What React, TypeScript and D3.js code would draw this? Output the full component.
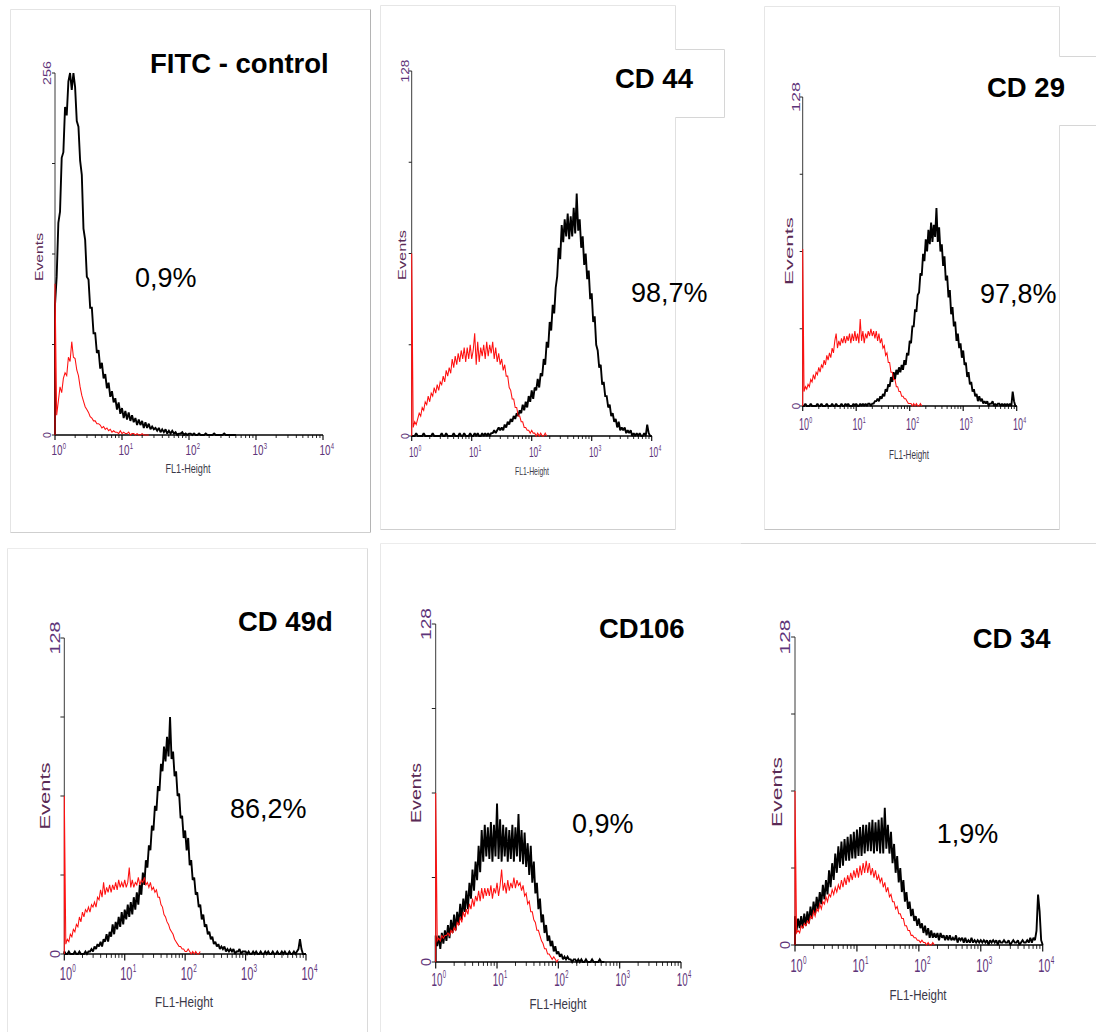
import React from "react";
import * as d3 from "d3";

// ---------------- DATA ----------------
const panelTitles = ["FITC - control", "CD 44", "CD 29", "CD 49d", "CD106", "CD 34"];
const positivePct = ["0,9%", "98,7%", "97,8%", "86,2%", "0,9%", "1,9%"];
const yMaxima = [256, 128, 128, 128, 128, 128];
const yTicks256 = [0, 64, 128, 192, 256];
const yTicks128 = [0, 32, 64, 96, 128];
const decadeExponents = ["0", "1", "2", "3", "4"];
const decadeValues = [1, 10, 100, 1000, 10000];
const STEPS_PER_DECADE = 40; // histogram channels per decade (FL1 log scale)

const fitcBlack = [
  92, 112, 150, 158, 196, 200, 232, 226, 250, 256, 244, 256,
  246, 222, 218, 194, 184, 146, 138, 112, 110, 90, 90, 72,
  72, 58, 60, 47, 51, 40, 43, 33, 37, 27, 31, 23,
  26, 18, 23, 15, 19, 12, 17, 11, 16, 10, 14, 9,
  12, 7, 11, 7, 10, 5, 9, 5, 8, 4, 6, 4,
  5, 3, 5, 2, 4, 2, 4, 1, 3, 1, 3, 1,
  2, 0, 1, 1, 2, 0, 1, 0, 1, 1, 0, 1,
  0, 0, 1, 0, 0, 0, 1, 0, 0, 0, 0, 1, 0, 0, 0, 0, 0, 1, 0, 0, 0, 0, 0, 0, 0,
];
const fitcRed = [
  107, 14, 24, 34, 30, 40, 44, 42, 55, 52, 66, 55, 54, 46, 42, 34, 28, 24, 20, 18,
  16, 13, 12, 10, 10, 8, 8, 7, 5, 6, 4, 5, 3, 4, 2, 3, 2, 2, 1, 3,
  1, 2, 1, 1, 2, 0, 1, 1, 0, 1, 0, 0, 1, 0, 0, 0, 0,
];

const cd44Black = [
  0, 0, 0, 1, 0, 0, 0, 0, 1, 0,
  0, 0, 0, 0, 1, 0, 0, 0, 0, 0,
  1, 0, 0, 1, 0, 0, 0, 0, 1, 0,
  0, 0, 1, 0, 0, 1, 0, 0, 0, 1,
  0, 0, 1, 0, 1, 0, 0, 1, 0, 1,
  0, 1, 0, 1, 1, 2, 1, 2, 3, 2,
  3, 2, 4, 3, 5, 4, 6, 5, 7, 6,
  8, 7, 9, 8, 11, 9, 12, 10, 14, 12,
  16, 13, 17, 16, 20, 17, 22, 21, 27, 25,
  33, 31, 40, 37, 46, 43, 52, 56, 66, 62,
  74, 68, 76, 70, 78, 69, 77, 70, 80, 71,
  85, 72, 76, 66, 70, 60, 64, 55, 58, 48,
  50, 40, 42, 32, 30, 24, 25, 18, 19, 14,
  14, 10, 11, 7, 8, 5, 6, 3, 5, 2,
  3, 2, 3, 1, 2, 1, 2, 0, 1, 0,
  1, 0, 1, 0, 0, 1, 0, 4, 1, 0, 0,
];
const cd44Red = [
  64, 3, 5, 4, 6, 8, 7, 10, 9, 12,
  11, 14, 12, 15, 14, 17, 15, 18, 16, 19,
  18, 21, 19, 23, 21, 24, 22, 27, 24, 28,
  25, 29, 26, 30, 27, 31, 26, 31, 27, 32,
  27, 30, 36, 25, 33, 26, 31, 28, 32, 27,
  33, 28, 32, 29, 33, 27, 31, 26, 29, 25,
  27, 23, 25, 21, 21, 17, 16, 13, 13, 10,
  10, 7, 7, 5, 5, 3, 3, 2, 2, 1,
  2, 1, 1, 0, 1, 0, 1, 0, 0, 1, 0,
];

const cd29Black = [
  0, 0, 1, 0, 0, 0, 1, 0, 0, 0,
  0, 1, 0, 0, 1, 0, 0, 0, 1, 0,
  0, 0, 1, 0, 0, 1, 0, 0, 0, 1,
  0, 0, 1, 0, 1, 0, 0, 0, 1, 0,
  1, 0, 0, 1, 0, 1, 0, 1, 0, 1,
  1, 0, 1, 1, 2, 2, 3, 2, 4, 3,
  5, 4, 7, 6, 9, 8, 12, 10, 14, 11,
  15, 13, 16, 14, 17, 15, 19, 17, 22, 21,
  27, 26, 33, 33, 40, 39, 46, 47, 55, 54,
  63, 60, 69, 64, 73, 67, 76, 68, 75, 70,
  82, 68, 74, 64, 67, 58, 62, 52, 54, 45,
  48, 38, 41, 33, 35, 27, 30, 24, 26, 20,
  23, 17, 18, 12, 14, 9, 10, 6, 7, 4,
  5, 2, 4, 2, 3, 1, 2, 1, 2, 0,
  1, 1, 2, 0, 1, 0, 1, 1, 0, 1,
  0, 1, 0, 1, 0, 1, 0, 6, 2, 0, 0,
];
const cd29Red = [
  65, 6, 8, 7, 9, 8, 11, 10, 13, 11,
  14, 13, 16, 14, 17, 16, 19, 17, 21, 19,
  22, 20, 24, 22, 27, 30, 24, 27, 25, 28,
  26, 29, 26, 29, 27, 30, 26, 30, 27, 31,
  27, 30, 26, 36, 27, 31, 26, 30, 28, 31,
  29, 32, 29, 31, 28, 31, 27, 30, 26, 28,
  24, 25, 21, 22, 18, 18, 14, 14, 11, 11,
  8, 8, 6, 6, 4, 4, 3, 3, 2, 1,
  1, 1, 0, 1, 0, 1, 0, 0, 1, 0,
];

const cd49dBlack = [
  1, 0, 0, 1, 0, 0, 0, 1, 0, 0,
  1, 0, 0, 0, 1, 0, 1, 1, 2, 1,
  3, 2, 4, 3, 5, 3, 6, 5, 8, 5,
  9, 7, 12, 8, 13, 10, 15, 11, 17, 12,
  18, 14, 20, 15, 21, 16, 23, 18, 25, 20,
  28, 24, 33, 28, 38, 35, 44, 42, 52, 50,
  60, 58, 68, 66, 77, 74, 84, 78, 88, 80,
  96, 79, 82, 72, 74, 64, 65, 55, 56, 47,
  50, 42, 47, 36, 38, 30, 31, 24, 25, 19,
  20, 14, 16, 11, 12, 8, 9, 6, 7, 4,
  5, 3, 4, 2, 3, 2, 3, 1, 2, 1,
  2, 1, 2, 0, 1, 1, 2, 0, 1, 1,
  1, 0, 1, 0, 0, 1, 0, 1, 0, 0,
  1, 0, 0, 1, 0, 1, 0, 0, 1, 0,
  0, 1, 0, 0, 1, 0, 1, 0, 0, 1,
  0, 0, 1, 0, 1, 2, 6, 2, 0, 0, 0,
];
const cd49dRed = [
  64, 4, 6, 5, 8, 7, 10, 9, 12, 11,
  15, 13, 17, 15, 18, 17, 19, 17, 20, 19,
  21, 19, 23, 22, 26, 23, 29, 24, 27, 25,
  28, 25, 28, 26, 29, 26, 30, 27, 29, 27,
  30, 27, 29, 35, 27, 30, 27, 29, 28, 31,
  28, 30, 29, 31, 28, 29, 27, 29, 26, 27,
  25, 26, 23, 23, 20, 19, 16, 15, 13, 12,
  10, 9, 8, 6, 5, 4, 3, 3, 2, 2,
  1, 1, 2, 1, 0, 1, 0, 1, 0, 0, 1,
];

const cd106Black = [
  10, 6, 10, 5, 11, 7, 12, 8, 14, 9,
  16, 11, 18, 12, 19, 14, 22, 16, 24, 19,
  27, 20, 30, 24, 35, 27, 38, 31, 44, 34,
  50, 38, 52, 40, 51, 39, 53, 38, 52, 40,
  60, 39, 54, 38, 52, 40, 51, 38, 50, 39,
  52, 38, 51, 40, 56, 38, 50, 37, 49, 36,
  45, 33, 44, 30, 38, 26, 30, 20, 24, 15,
  18, 11, 14, 8, 10, 6, 8, 4, 6, 3,
  4, 2, 3, 1, 2, 1, 2, 1, 1, 0,
  1, 1, 0, 1, 0, 1, 0, 0, 1, 0,
  0, 0, 1, 0, 0, 0, 0, 1, 0, 0, 0,
];
const cd106Red = [
  64, 8, 9, 8, 10, 9, 10, 10, 11, 10,
  12, 11, 13, 12, 15, 14, 17, 15, 19, 17,
  20, 18, 22, 20, 24, 21, 25, 23, 27, 23,
  28, 24, 28, 25, 28, 25, 29, 24, 28, 26,
  30, 25, 29, 35, 27, 30, 26, 31, 27, 30,
  28, 32, 28, 31, 29, 30, 27, 29, 25, 26,
  22, 23, 19, 19, 16, 15, 12, 12, 10, 8,
  7, 5, 5, 3, 3, 2, 1, 2, 1, 0, 1,
];

const cd34Black = [
  12, 6, 11, 7, 12, 7, 13, 8, 14, 9,
  16, 11, 18, 13, 20, 15, 22, 17, 25, 19,
  27, 21, 31, 24, 34, 27, 38, 30, 41, 32,
  43, 33, 44, 35, 45, 35, 46, 36, 47, 36,
  48, 37, 49, 37, 50, 38, 50, 39, 51, 39,
  52, 38, 51, 39, 52, 38, 53, 38, 57, 40,
  50, 38, 47, 34, 42, 30, 37, 26, 32, 22,
  27, 18, 22, 15, 18, 12, 15, 10, 12, 8,
  11, 7, 9, 5, 8, 4, 7, 3, 6, 3,
  5, 3, 5, 2, 5, 3, 4, 2, 4, 2,
  4, 2, 3, 2, 4, 1, 3, 2, 3, 1,
  3, 1, 2, 1, 3, 1, 2, 1, 2, 1,
  2, 1, 2, 1, 2, 0, 2, 1, 2, 1,
  2, 0, 2, 1, 1, 2, 1, 1, 2, 0,
  1, 2, 1, 1, 2, 0, 1, 2, 1, 1,
  2, 1, 3, 1, 3, 2, 6, 21, 14, 2, 0,
];
const cd34Red = [
  64, 5, 6, 5, 8, 7, 9, 8, 10, 9,
  12, 11, 14, 12, 15, 14, 17, 15, 18, 17,
  20, 18, 21, 20, 23, 21, 24, 22, 25, 23,
  27, 24, 28, 25, 29, 26, 30, 27, 31, 28,
  32, 28, 33, 29, 34, 30, 35, 30, 34, 29,
  32, 28, 31, 27, 29, 26, 28, 24, 26, 22,
  24, 20, 21, 18, 18, 15, 16, 13, 13, 11,
  11, 8, 8, 6, 6, 4, 4, 3, 3, 2,
  2, 1, 2, 1, 1, 0, 1, 0, 0, 1, 0,
];

const blackSeries = [fitcBlack, cd44Black, cd29Black, cd49dBlack, cd106Black, cd34Black];
const redSeries = [fitcRed, cd44Red, cd29Red, cd49dRed, cd106Red, cd34Red];

// ---------------- LAYOUT ----------------
type Layout = {
  ax0: number; ax1: number; ay0: number; ay1: number;
  titleX: number; titleY: number; pctX: number; pctY: number;
  evX: number; evY: number; evLen: number; evFs: number;
  flX: number; flY: number; flLen: number; flFs: number;
  tkDy: number; tkOff: number; tkSx: number; tkFs: number; supFs: number;
  ylX: number; ylLen: number; ylFs: number; tickScale: number;
};

const layouts: Layout[] = [
  { ax0: 55, ax1: 323, ay0: 435, ay1: 73, titleX: 150, titleY: 73, pctX: 135, pctY: 287,
    evX: 39, evY: 257, evLen: 48, evFs: 11, flX: 188, flY: 473, flLen: 45, flFs: 12,
    tkDy: 20, tkOff: 3.5, tkSx: 0.66, tkFs: 15, supFs: 9, ylX: 46.5, ylLen: 24, ylFs: 10.5, tickScale: 1 },
  { ax0: 411.7, ax1: 651.7, ay0: 436, ay1: 71, titleX: 615, titleY: 88, pctX: 631, pctY: 302,
    evX: 401.7, evY: 255, evLen: 50, evFs: 11, flX: 532, flY: 475, flLen: 34, flFs: 10.5,
    tkDy: 20.5, tkOff: 2.8, tkSx: 0.6, tkFs: 14, supFs: 8.5, ylX: 405, ylLen: 23, ylFs: 10.5, tickScale: 1 },
  { ax0: 802.7, ax1: 1016.7, ay0: 406, ay1: 97, titleX: 987, titleY: 97, pctX: 980, pctY: 303,
    evX: 789, evY: 251, evLen: 68, evFs: 11.5, flX: 909, flY: 459, flLen: 40, flFs: 12.5,
    tkDy: 24, tkOff: 3.8, tkSx: 0.56, tkFs: 16, supFs: 9.5, ylX: 796, ylLen: 30, ylFs: 11.5, tickScale: 1 },
  { ax0: 64.3, ax1: 306, ay0: 954, ay1: 638, titleX: 238, titleY: 631, pctX: 230, pctY: 818,
    evX: 44.7, evY: 796, evLen: 67, evFs: 14.5, flX: 184, flY: 1007, flLen: 58, flFs: 15.5,
    tkDy: 26, tkOff: 4.5, tkSx: 0.58, tkFs: 19, supFs: 11, ylX: 55, ylLen: 33, ylFs: 14.5, tickScale: 1.3 },
  { ax0: 435.7, ax1: 681, ay0: 962, ay1: 624, titleX: 599, titleY: 638, pctX: 572, pctY: 833,
    evX: 416.3, evY: 793, evLen: 60, evFs: 14.5, flX: 558, flY: 1009, flLen: 57, flFs: 15.5,
    tkDy: 23.5, tkOff: 4.2, tkSx: 0.56, tkFs: 17.5, supFs: 10.5, ylX: 426, ylLen: 32, ylFs: 14.5, tickScale: 1.3 },
  { ax0: 795, ax1: 1042.7, ay0: 945, ay1: 637, titleX: 972.7, titleY: 648, pctX: 936.7, pctY: 843,
    evX: 776.7, evY: 792, evLen: 70, evFs: 14.5, flX: 918, flY: 1000, flLen: 57, flFs: 15.5,
    tkDy: 26.7, tkOff: 4.5, tkSx: 0.58, tkFs: 19, supFs: 11, ylX: 785, ylLen: 35, ylFs: 14.5, tickScale: 1.3 },
];

const FONT = "'Liberation Sans', Arial, Helvetica, sans-serif";
const PURPLE = "#5e3479";
const EVENTS_COLOR = "#5a2a55";
const LABEL_GRAY = "#3a3848";
const BORDER = "#d6d6d6";
const BORDER_DARK = "#b4b4b4";

function Histogram({ idx }: { idx: number }) {
  const L = layouts[idx];
  const ymax = yMaxima[idx];
  const yTicks = ymax === 256 ? yTicks256 : yTicks128;
  const x = d3.scaleLog().domain([decadeValues[0], decadeValues[4]]).range([L.ax0, L.ax1]);
  const y = d3.scaleLinear().domain([0, ymax]).range([L.ay0, L.ay1]).clamp(true);

  const toPoints = (vals: number[]): [number, number][] => [
    [decadeValues[0], 0],
    ...vals.map((v, i) => [Math.pow(10, i / STEPS_PER_DECADE), v] as [number, number]),
  ];
  const line = d3
    .line<[number, number]>()
    .x((d) => x(d[0]))
    .y((d) => y(d[1]));

  const xTicks = x.ticks();
  const s = L.tickScale;

  return (
    <g>
      {/* axes */}
      <line x1={L.ax0} x2={L.ax0} y1={L.ay1} y2={L.ay0} stroke="#3a3a3a" strokeWidth={1} />
      {yTicks.map((t) => (
        <line key={"yt" + t} x1={L.ax0 - 3 * s} x2={L.ax0} y1={y(t)} y2={y(t)} stroke="#222" strokeWidth={1} />
      ))}
      {xTicks.map((t, i) => {
        const major = Math.abs(Math.log10(t) - Math.round(Math.log10(t))) < 1e-9;
        return (
          <line key={"xt" + i} x1={x(t)} x2={x(t)} y1={L.ay0} y2={L.ay0 + (major ? 5 : 3) * s}
            stroke="#111" strokeWidth={major ? 1.2 : 0.9} />
        );
      })}
      <line x1={L.ax0} x2={L.ax1} y1={L.ay0} y2={L.ay0} stroke="#000" strokeWidth={1.4} />

      {/* histograms */}
      <path d={line(toPoints(blackSeries[idx])) || ""} fill="none" stroke="#000" strokeWidth={1.9}
        strokeLinejoin="miter" strokeMiterlimit={2} />
      <path d={line(toPoints(redSeries[idx])) || ""} fill="none" stroke="#ff1010" strokeWidth={1.05} />

      {/* x tick labels: 10 with superscript exponent */}
      {decadeValues.map((v, i) => (
        <text key={"xl" + i}
          transform={`translate(${x(v) - L.tkOff},${L.ay0 + L.tkDy}) scale(${L.tkSx},1)`}
          fill={PURPLE} fontFamily={FONT} fontSize={L.tkFs}>
          10
          <tspan dx={0.5} dy={-L.tkFs * 0.42} fontSize={L.supFs}>{decadeExponents[i]}</tspan>
        </text>
      ))}

      {/* y tick labels */}
      <text transform={`translate(${L.ylX},${L.ay0}) rotate(-90)`} textAnchor="middle" dominantBaseline="central"
        fontFamily={FONT} fontSize={L.ylFs} fill={PURPLE}>0</text>
      <text transform={`translate(${L.ylX},${L.ay1}) rotate(-90)`} textAnchor="middle" dominantBaseline="central"
        fontFamily={FONT} fontSize={L.ylFs} fill={PURPLE} textLength={L.ylLen} lengthAdjust="spacingAndGlyphs">
        {String(ymax)}
      </text>

      {/* axis titles */}
      <text transform={`translate(${L.evX},${L.evY}) rotate(-90)`} textAnchor="middle" dominantBaseline="central"
        fontFamily={FONT} fontSize={L.evFs} fill={EVENTS_COLOR} textLength={L.evLen} lengthAdjust="spacingAndGlyphs">
        Events
      </text>
      <text x={L.flX} y={L.flY} textAnchor="middle" fontFamily={FONT} fontSize={L.flFs} fill={LABEL_GRAY}
        textLength={L.flLen} lengthAdjust="spacingAndGlyphs">FL1-Height</text>

      {/* panel title and percentage */}
      <text x={L.titleX} y={L.titleY} fontFamily={FONT} fontWeight="bold" fontSize={27.5} fill="#000">
        {panelTitles[idx]}
      </text>
      <text x={L.pctX} y={L.pctY} fontFamily={FONT} fontSize={27} fill="#000">
        {positivePct[idx]}
      </text>
    </g>
  );
}

function Frames() {
  const ln = (x1: number, y1: number, x2: number, y2: number, c = BORDER) => (
    <line key={x1 + "_" + y1 + "_" + x2 + "_" + y2} x1={x1} y1={y1} x2={x2} y2={y2} stroke={c} strokeWidth={1} />
  );
  return (
    <g>
      {/* panel 1 */}
      {ln(10.5, 9.5, 370.5, 9.5, "#e4e4e4")}
      {ln(10.5, 9.5, 10.5, 532.5, "#e4e4e4")}
      {ln(370.5, 9.5, 370.5, 532.5, BORDER_DARK)}
      {ln(10.5, 532.5, 370.5, 532.5, "#cfcfcf")}
      {/* panel 2 */}
      {ln(380.5, 5.5, 675.5, 5.5, "#e6e6e6")}
      {ln(380.5, 5.5, 380.5, 529.5, "#e6e6e6")}
      {ln(380.5, 529.5, 675.5, 529.5, "#cfcfcf")}
      {ln(675.5, 5.5, 675.5, 49.5, "#e0e0e0")}
      {ln(675.5, 117.5, 675.5, 529.5, "#e0e0e0")}
      {ln(675.5, 49.5, 724.5, 49.5, BORDER)}
      {ln(724.5, 49.5, 724.5, 117.5, BORDER)}
      {ln(675.5, 117.5, 724.5, 117.5, BORDER)}
      {/* panel 3 */}
      {ln(764.5, 6.5, 1059.5, 6.5, "#e6e6e6")}
      {ln(764.5, 6.5, 764.5, 529.5, "#e6e6e6")}
      {ln(764.5, 529.5, 1059.5, 529.5, "#c4c4c4")}
      {ln(1059.5, 6.5, 1059.5, 56.5, "#dcdcdc")}
      {ln(1059.5, 125.5, 1059.5, 529.5, "#dcdcdc")}
      {ln(1059.5, 56.5, 1096, 56.5, BORDER)}
      {ln(1059.5, 125.5, 1096, 125.5, BORDER)}
      {/* panel 4 */}
      {ln(7.5, 548.5, 367.5, 548.5, "#ececec")}
      {ln(7.5, 548.5, 7.5, 1032, "#e6e6e6")}
      {ln(367.5, 548.5, 367.5, 1032, "#dadada")}
      {/* panels 5 & 6 */}
      {ln(380.5, 543.5, 741, 543.5, "#ececec")}
      {ln(741, 543.5, 1096, 543.5, "#d8d8d8")}
      {ln(380.5, 543.5, 380.5, 1032, "#e8e8e8")}
    </g>
  );
}

export default function App() {
  return (
    <svg
      width={1096}
      height={1032}
      viewBox="0 0 1096 1032"
      style={{ position: "absolute", left: 0, top: 0, background: "#fff" }}
    >
      <rect x={0} y={0} width={1096} height={1032} fill="#fff" />
      <Frames />
      {layouts.map((_, i) => (
        <Histogram key={i} idx={i} />
      ))}
    </svg>
  );
}
